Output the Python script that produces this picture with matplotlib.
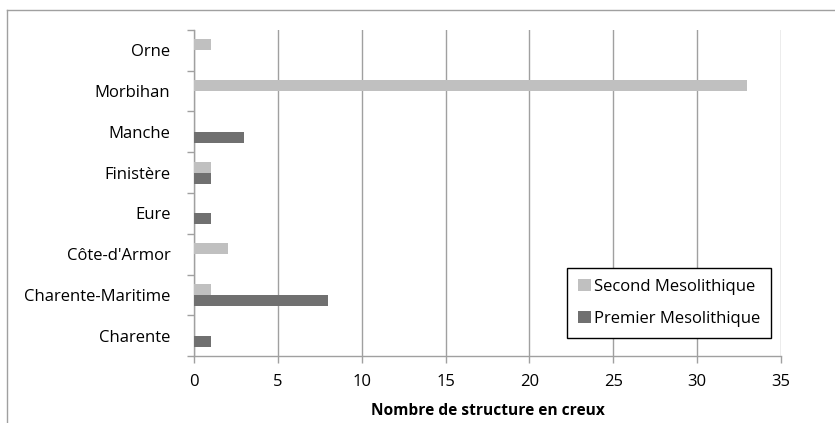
import matplotlib
matplotlib.use('Agg')
import matplotlib.pyplot as plt
from matplotlib.lines import Line2D
import numpy as np

plt.rcParams['font.family'] = ['Open Sans', 'DejaVu Sans']

departements = ['Charente', 'Charente-Maritime', "Côte-d'Armor", 'Eure',
                'Finistère', 'Manche', 'Morbihan', 'Orne']
second_meso = [0, 1, 2, 0, 1, 0, 33, 1]
premier_meso = [1, 8, 0, 1, 1, 3, 0, 0]
x_ticks = [0, 5, 10, 15, 20, 25, 30, 35]

W, H = 835, 423
fig = plt.figure(figsize=(W / 100, H / 100), dpi=100)
ax = fig.add_axes([194 / W, 1 - 356 / H, (781 - 194) / W, (356 - 30) / H])

y = np.arange(len(departements))
bh = 0.27
ax.barh(y + bh / 2, second_meso, height=bh, color='#c0c0c0', label='Second Mesolithique', zorder=3)
ax.barh(y - bh / 2, premier_meso, height=bh, color='#707070', label='Premier Mesolithique', zorder=3)

ax.set_xlim(0, 35)
ax.set_ylim(-0.5, len(departements) - 0.5)
ax.set_xticks(x_ticks)
ax.set_xticklabels([str(t) for t in x_ticks], fontsize=12)
ax.set_yticks(y)
ax.set_yticklabels(departements, fontsize=12, va='center_baseline')
ax.set_yticks(np.arange(len(departements) + 1) - 0.5, minor=True)
ax.tick_params(axis='y', which='major', length=0, pad=17)
ax.tick_params(axis='y', which='minor', length=5, color='#a0a0a0', width=1)
ax.tick_params(axis='x', length=5, color='#a0a0a0', width=1, pad=8)
ax.grid(axis='x', color='#a0a0a0', linewidth=1, zorder=0)

for s in ['top', 'right']:
    ax.spines[s].set_visible(False)
for s in ['left', 'bottom']:
    ax.spines[s].set_color('#a0a0a0')
    ax.spines[s].set_linewidth(1)

ax.set_xlabel('Nombre de structure en creux', fontsize=11.2, fontweight='bold', labelpad=9)

leg = ax.legend(loc='lower right', bbox_to_anchor=((771 - 194) / (781 - 194), (356 - 338) / (356 - 30)),
                fontsize=12, frameon=True, fancybox=False, framealpha=1, edgecolor='black',
                handlelength=0.75, handleheight=0.75, handletextpad=0.2, labelspacing=1.0,
                borderpad=0.65, borderaxespad=0)
leg.get_frame().set_linewidth(1)

# outer chart frame (cropped on the right and bottom)
fig.add_artist(Line2D([7 / W, 1], [1 - 10 / H, 1 - 10 / H], color='#a0a0a0', linewidth=1))
fig.add_artist(Line2D([7 / W, 7 / W], [0, 1 - 10 / H], color='#a0a0a0', linewidth=1))

fig.savefig('out.png', dpi=100)
